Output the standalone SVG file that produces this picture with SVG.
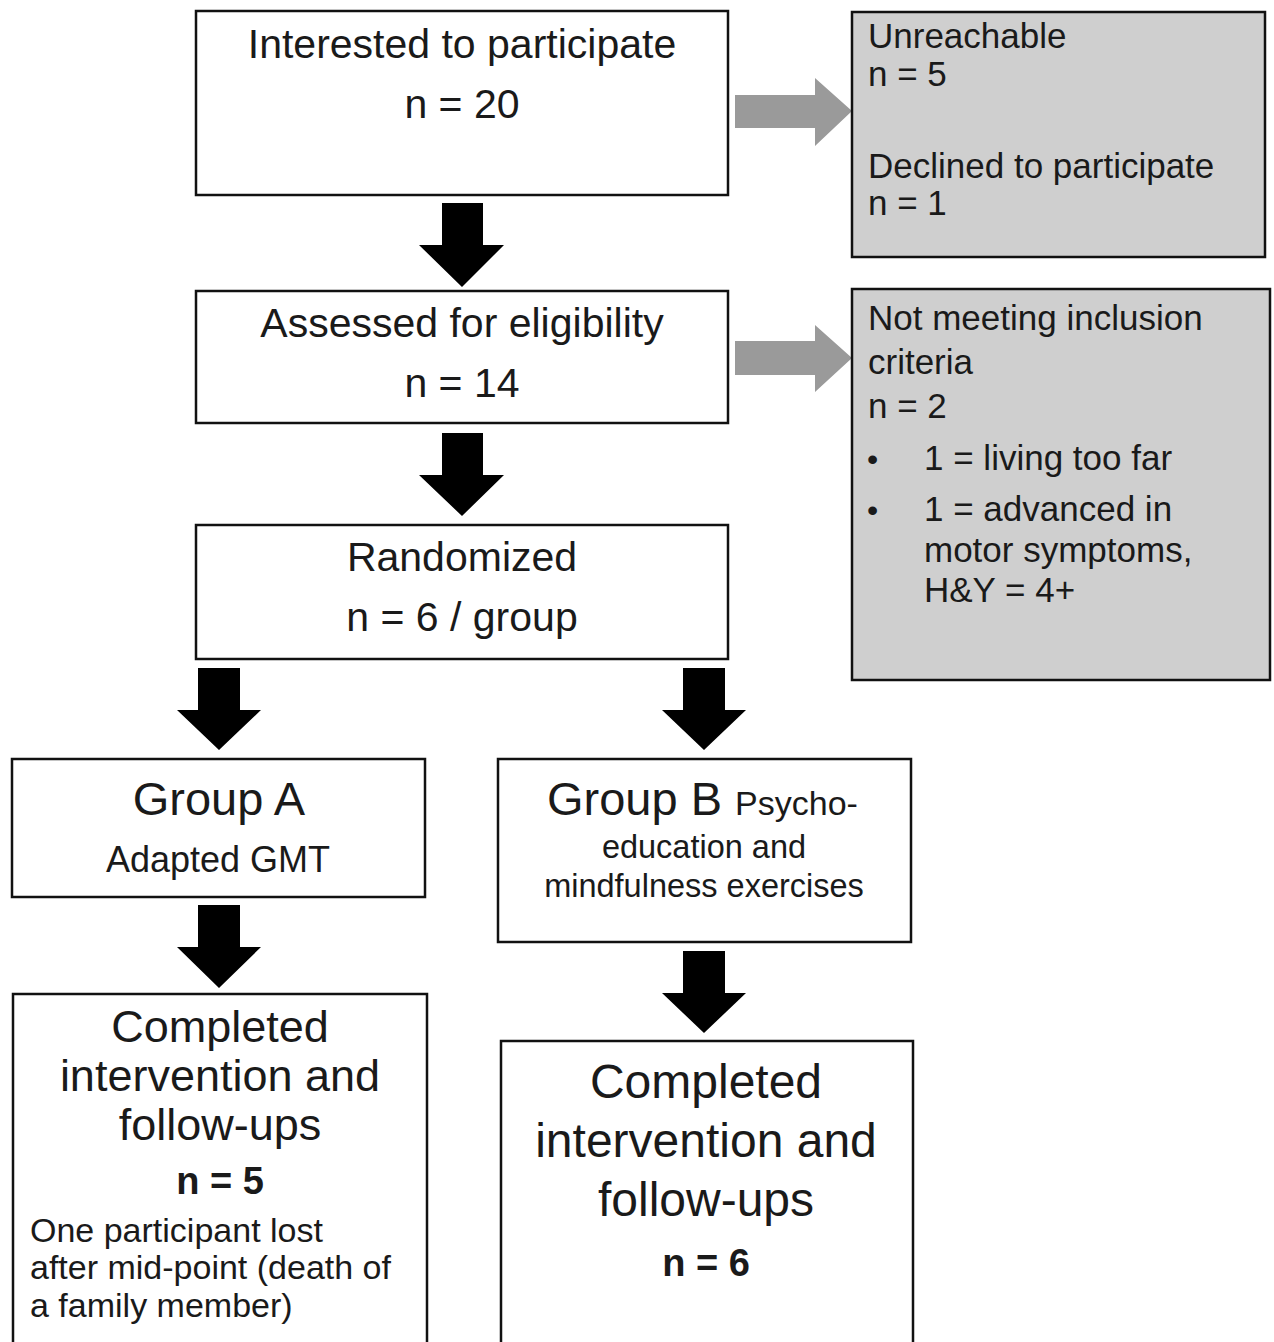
<svg xmlns="http://www.w3.org/2000/svg" width="1274" height="1342" viewBox="0 0 1274 1342">
<style>
.box{fill:#fff;stroke:#111;stroke-width:2.5}
.gbox{fill:#cfcfcf;stroke:#111;stroke-width:2.5}
text{font-family:"Liberation Sans",Arial,sans-serif;fill:#1a1a1a}
.c{text-anchor:middle}
.t40{font-size:41px}
.t35{font-size:35px}
.b{font-weight:bold}
.dn{fill:#000}
.rt{fill:#9a9a9a}
.bul{font-size:32px}
</style>
<rect width="1274" height="1342" fill="#fff"/>
<g id="connectors">
<polygon class="dn" points="442,203 483,203 483,245 504,245 462,287 419,245 442,245"/>
<polygon class="dn" points="442,433 483,433 483,475 504,475 462,516 419,475 442,475"/>
<polygon class="dn" points="198,668 240,668 240,710 261,710 219,750 177,710 198,710"/>
<polygon class="dn" points="683,668 725,668 725,710 746,710 704,750 662,710 683,710"/>
<polygon class="dn" points="198,905 240,905 240,947 261,947 219,988 177,947 198,947"/>
<polygon class="dn" points="683,951 725,951 725,993 746,993 704,1033 662,993 683,993"/>
<polygon class="rt" points="735,95 815,95 815,78 852,111 815,146 815,128 735,128"/>
<polygon class="rt" points="735,341 815,341 815,325 852,358 815,392 815,375 735,375"/>
</g>
<g id="interested">
<rect class="box" x="196" y="11" width="532" height="184"/>
<text class="c t40" x="462" y="58">Interested to participate</text>
<text class="c t40" x="462" y="118">n = 20</text>
</g>
<g id="excluded1">
<rect class="gbox" x="852" y="12" width="413" height="245"/>
<text class="t35" x="868" y="48">Unreachable</text>
<text class="t35" x="868" y="86">n = 5</text>
<text class="t35" x="868" y="178">Declined to participate</text>
<text class="t35" x="868" y="215">n = 1</text>
</g>
<g id="assessed">
<rect class="box" x="196" y="291" width="532" height="132"/>
<text class="c t40" x="462" y="337">Assessed for eligibility</text>
<text class="c t40" x="462" y="397">n = 14</text>
</g>
<g id="excluded2">
<rect class="gbox" x="852" y="289" width="418" height="391"/>
<text class="t35" x="868" y="330">Not meeting inclusion</text>
<text class="t35" x="868" y="374">criteria</text>
<text class="t35" x="868" y="418">n = 2</text>
<text class="bul" x="867" y="470">•</text>
<text class="t35" x="924" y="470">1 = living too far</text>
<text class="bul" x="867" y="521">•</text>
<text class="t35" x="924" y="521">1 = advanced in</text>
<text class="t35" x="924" y="562">motor symptoms,</text>
<text class="t35" x="924" y="602">H&amp;Y = 4+</text>
</g>
<g id="randomized">
<rect class="box" x="196" y="525" width="532" height="134"/>
<text class="c t40" x="462" y="571">Randomized</text>
<text class="c t40" x="462" y="631">n = 6 / group</text>
</g>
<g id="groupA">
<rect class="box" x="12" y="759" width="413" height="138"/>
<text class="c" style="font-size:47px" x="219" y="815">Group A</text>
<text class="c" style="font-size:36px" x="218" y="872">Adapted GMT</text>
</g>
<g id="groupB">
<rect class="box" x="498" y="759" width="413" height="183"/>
<text style="font-size:47px" x="547" y="815">Group B <tspan style="font-size:34px">Psycho-</tspan></text>
<text class="c" style="font-size:32.5px" x="704" y="858">education and</text>
<text class="c" style="font-size:32.5px" x="704" y="897">mindfulness exercises</text>
</g>
<g id="completedA">
<rect class="box" x="13" y="994" width="414" height="360"/>
<text class="c" style="font-size:45px" x="220" y="1042">Completed</text>
<text class="c" style="font-size:45px" x="220" y="1091">intervention and</text>
<text class="c" style="font-size:45px" x="220" y="1140">follow-ups</text>
<text class="c b" style="font-size:38px" x="220" y="1194">n = 5</text>
<text style="font-size:34px" x="30" y="1242">One participant lost</text>
<text style="font-size:34px" x="30" y="1279">after mid-point (death of</text>
<text style="font-size:34px" x="30" y="1317">a family member)</text>
</g>
<g id="completedB">
<rect class="box" x="501" y="1041" width="412" height="313"/>
<text class="c" style="font-size:48px" x="706" y="1098">Completed</text>
<text class="c" style="font-size:48px" x="706" y="1157">intervention and</text>
<text class="c" style="font-size:48px" x="706" y="1216">follow-ups</text>
<text class="c b" style="font-size:38px" x="706" y="1276">n = 6</text>
</g>
</svg>
